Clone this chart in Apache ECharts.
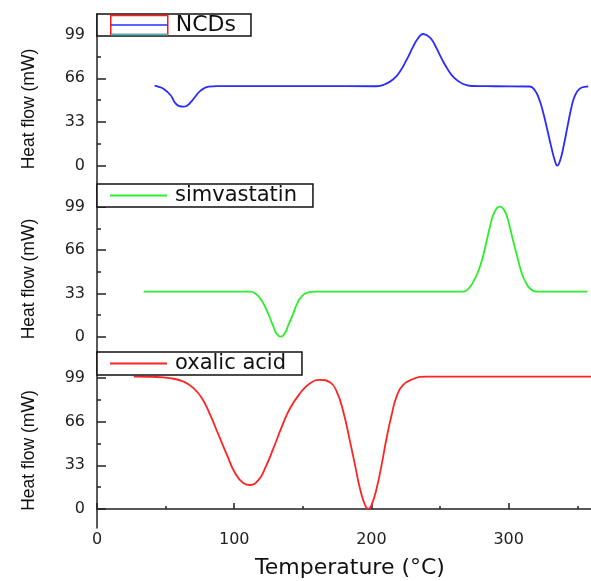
<!DOCTYPE html>
<html>
<head>
<meta charset="utf-8">
<script src="https://cdn.jsdelivr.net/npm/echarts@6/dist/echarts.min.js"></script>
<style>html,body{margin:0;padding:0;background:#fff;}#c{width:591px;height:581px;}</style>
</head>
<body>
<div id="c"></div>
<script>
// ---- data ----
const seriesNames = ['NCDs', 'simvastatin', 'oxalic acid'];
const yTickValues = [0, 33, 66, 99];
const yMinorTickValues = [16.5, 49.5, 82.5];
const xTickValues = [0, 100, 200, 300];
const xMinorTickValues = [50, 150, 250, 350];

const ncdsTemp = [42, 45, 48.6, 53.5, 57.1, 60, 63.1, 66, 68, 71.6, 75.3, 81.3, 87.4, 120, 160, 203.8, 209.8, 215.9, 220.7, 225.6, 230.4, 234, 237.7, 242.5, 246.2, 251, 255.9, 260.7, 266.8, 272.9, 290, 315.3, 318.9, 322, 325, 327.9, 331, 333.5, 335.4, 337.6, 340.2, 343.1, 345.6, 348, 351.6, 356.5, 358];
const ncdsHeat = [60.5, 59.6, 58.0, 53.4, 47.2, 45.0, 44.6, 45.6, 47.6, 52.1, 56.5, 59.7, 60.1, 60.1, 60.1, 60.0, 61.5, 65.3, 71.0, 79.9, 89.9, 96.3, 99.5, 97.0, 91.2, 81.2, 72.3, 66.0, 61.7, 60.2, 60.0, 59.8, 57.2, 50.9, 40.8, 28.3, 14.4, 4.3, 0, 4.3, 15.6, 30.8, 43.4, 52.1, 58.0, 59.7, 59.8];

const simTemp = [34, 60, 90, 111.6, 115.3, 118.9, 122.5, 125.7, 128.6, 131, 134, 137.1, 139.5, 142.7, 145.6, 149.2, 154, 160.2, 200, 240, 266.8, 270.4, 274, 277.7, 280.9, 283.8, 286.7, 289.8, 293.5, 297.1, 300.2, 303.1, 306.3, 309.2, 312.4, 316, 321.3, 340, 357.5];
const simHeat = [34.3, 34.3, 34.3, 34.3, 33.0, 29.2, 22.8, 15.2, 7.6, 2.1, 0, 3.2, 9.0, 16.8, 24.6, 30.8, 33.8, 34.3, 34.3, 34.3, 34.3, 36.3, 41.4, 49.5, 59.7, 72.3, 85.1, 95.2, 99.0, 95.7, 86.3, 73.6, 60.9, 49.5, 41.4, 36.3, 34.3, 34.3, 34.3];

const oxTemp = [26.8, 40, 53.5, 63.1, 70.4, 76.5, 82.5, 88.6, 94.7, 100.7, 106.8, 111.6, 117.7, 122.5, 128.6, 134.7, 140.7, 148, 155.3, 162.5, 169.8, 174.7, 179.5, 184.4, 188, 191.6, 195.3, 197.7, 200.1, 203.8, 207.4, 211, 214.7, 218.3, 223.1, 230.4, 240.1, 300, 360];
const oxHeat = [100, 99.8, 98.8, 96.2, 91.2, 83.7, 71.0, 55.9, 40.8, 27.0, 19.4, 18.1, 21.9, 30.8, 45.9, 62.2, 76.1, 87.4, 95.0, 97.5, 95.8, 88.6, 73.5, 50.9, 33.3, 15.6, 3.0, 0, 3.0, 15.6, 33.3, 53.4, 71.0, 84.9, 93.7, 98.2, 100, 100, 100];

// ---- build ----
function pairs(t, v) { return t.map((x, i) => [x, v[i]]); }
const colors = ['#2b2bff', '#2cee2c', '#ff2424'];
const panelData = [pairs(ncdsTemp, ncdsHeat), pairs(simTemp, simHeat), pairs(oxTemp, oxHeat)];
const panels = [
  { top: 14, height: 169, min: -13.1, max: 114.6 },
  { top: 184, height: 169, min: -12.4, max: 116.3 },
  { top: 352, height: 176, min: -14.4, max: 118.6 }
];
const axisColor = '#222';
const grid = panels.map(p => ({ left: 97, right: 0, top: p.top, height: p.height }));
const xAxis = [];
const yAxis = [];
panels.forEach((p, i) => {
  const isBottom = i === 2;
  xAxis.push({
    type: 'value', gridIndex: i, min: 0, max: 360, show: isBottom, position: 'bottom',
    axisLine: { show: true, lineStyle: { color: axisColor, width: 1.5 } },
    axisTick: { show: true, inside: true, length: 6, customValues: xTickValues, lineStyle: { color: axisColor, width: 1.5 } },
    axisLabel: { show: true, customValues: xTickValues, margin: 4, fontFamily: 'DejaVu Sans', fontSize: 16, color: '#222' },
    splitLine: { show: false },
    name: isBottom ? 'Temperature (°C)' : '', nameLocation: 'middle', nameGap: 29,
    nameTextStyle: { fontFamily: 'DejaVu Sans', fontSize: 22, color: '#111', padding: [0, 0, 0, 12] }
  });
  yAxis.push({
    type: 'value', gridIndex: i, min: p.min, max: p.max, position: 'left',
    axisLine: { show: true, lineStyle: { color: axisColor, width: 1.5 } },
    axisTick: { show: true, inside: true, length: 9, customValues: yTickValues, lineStyle: { color: axisColor, width: 1.5 } },
    axisLabel: { show: true, customValues: yTickValues, margin: 12, fontFamily: 'DejaVu Sans', fontSize: 16, color: '#222' },
    splitLine: { show: false },
    name: 'Heat flow (mW)', nameLocation: 'middle', nameGap: 59,
    nameTextStyle: { fontFamily: 'Liberation Sans', fontSize: 17.5, color: '#111', padding: [0, 21, 0, 0] }
  });
});
// minor tick axes
panels.forEach((p, i) => {
  yAxis.push({
    type: 'value', gridIndex: i, min: p.min, max: p.max, position: 'left',
    axisLine: { show: false }, axisLabel: { show: false }, splitLine: { show: false },
    axisTick: { show: true, inside: true, length: 4, customValues: yMinorTickValues, lineStyle: { color: axisColor, width: 1.5 } }
  });
});
xAxis.push({
  type: 'value', gridIndex: 2, min: 0, max: 360, position: 'bottom',
  axisLine: { show: false }, axisLabel: { show: false }, splitLine: { show: false },
  axisTick: { show: true, inside: true, length: 3, customValues: xMinorTickValues, lineStyle: { color: axisColor, width: 1.5 } }
});

const series = seriesNames.map((name, i) => ({
  name: name, type: 'line', xAxisIndex: i, yAxisIndex: i,
  data: panelData[i], showSymbol: false, smooth: 0.5,
  lineStyle: { color: colors[i], width: 1.8 }, itemStyle: { color: colors[i] }
}));

const legendTops = [14, 184, 352];
const legendRightPad = [15, 16, 16];
const legend = seriesNames.map((name, i) => {
  const base = {
    data: [name], left: 97, top: legendTops[i], orient: 'horizontal', selectedMode: false,
    backgroundColor: '#fff', borderColor: '#111', borderWidth: 1.5,
    padding: [1, legendRightPad[i], 1, 13], itemWidth: 57, itemHeight: 2, itemGap: 0, icon: 'rect',
    textStyle: { fontFamily: 'DejaVu Sans', fontSize: 21, color: '#111', padding: [0, 0, 0, 3] }
  };
  if (i === 0) {
    base.itemHeight = 19;
    base.padding = [0, legendRightPad[i], 0, 13];
    base.itemStyle = { color: '#fff', borderColor: '#ff1a1a', borderWidth: 1.5 };
    base.textStyle = { fontFamily: 'DejaVu Sans', fontSize: 22, color: '#111', padding: [0, 0, 0, 3] };
  }
  return base;
});

const chart = echarts.init(document.getElementById('c'), null, { renderer: 'canvas' });
chart.setOption({
  animation: false,
  backgroundColor: '#fff',
  grid: grid, xAxis: xAxis, yAxis: yAxis, series: series, legend: legend,
  graphic: [
    { type: 'line', z: 100, shape: { x1: 111, y1: 25, x2: 168, y2: 25 }, style: { stroke: '#2b2bff', lineWidth: 1.5 } },
    { type: 'line', z: 100, shape: { x1: 111, y1: 34.5, x2: 168, y2: 34.5 }, style: { stroke: '#22c8c8', lineWidth: 1.5 } }
  ]
});
</script>
</body>
</html>
